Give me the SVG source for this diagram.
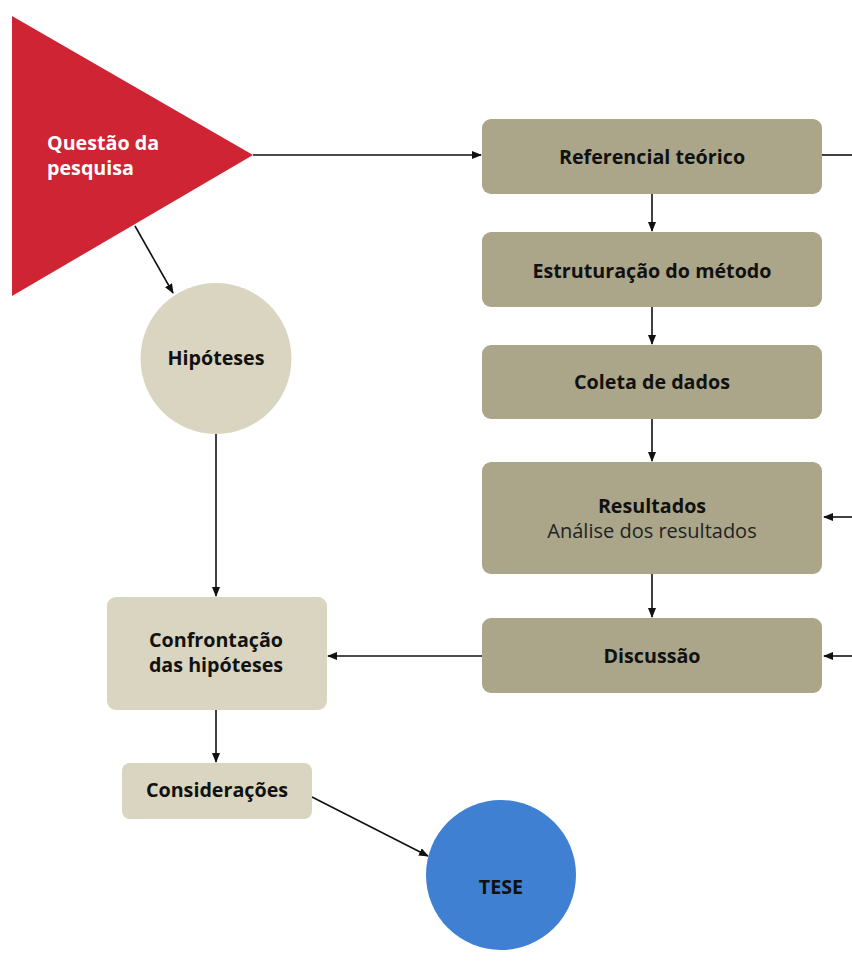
<svg xmlns="http://www.w3.org/2000/svg" width="852" height="963" viewBox="0 0 852 963">
<defs>
<marker id="ah" markerWidth="10" markerHeight="8" refX="9" refY="4" orient="auto" markerUnits="userSpaceOnUse">
<path d="M0,0 L10,4 L0,8 Z" fill="#111"/>
</marker>
<style>
.dark{fill:#ABA68A}
.light{fill:#D9D5C0}
.t{font-family:"Open Sans","Liberation Sans",sans-serif;font-weight:700;font-size:19.7px;fill:#111;text-anchor:middle}
.r{font-family:"Open Sans","Liberation Sans",sans-serif;font-weight:400;font-size:20px;fill:#222;text-anchor:middle}
.c{stroke:#111;stroke-width:1.6;fill:none}
.ca{stroke:#111;stroke-width:1.6;fill:none;marker-end:url(#ah)}
</style>
</defs>
<rect width="852" height="963" fill="#fff"/>
<g id="connectors">
<line class="ca" x1="253" y1="155" x2="481" y2="155"/>
<line class="c" x1="822" y1="155" x2="852" y2="155"/>
<line class="ca" x1="652" y1="194" x2="652" y2="231"/>
<line class="ca" x1="652" y1="307" x2="652" y2="344"/>
<line class="ca" x1="652" y1="419" x2="652" y2="461"/>
<line class="ca" x1="652" y1="574" x2="652" y2="617"/>
<line class="ca" x1="852" y1="517" x2="824" y2="517"/>
<line class="ca" x1="852" y1="656" x2="824" y2="656"/>
<line class="ca" x1="482" y1="656" x2="328" y2="656"/>
<line class="ca" x1="135" y1="226" x2="173" y2="293"/>
<line class="ca" x1="216" y1="434" x2="216" y2="596"/>
<line class="ca" x1="216" y1="710" x2="216" y2="762"/>
<line class="ca" x1="312" y1="797" x2="428" y2="856"/>
</g>
<g id="questao">
<polygon points="12,16 253,155 12,296" fill="#CE2434"/>
<text class="t" style="text-anchor:start;fill:#fff"><tspan x="47" y="150">Questão da</tspan><tspan x="47" y="175">pesquisa</tspan></text>
</g>
<g id="referencial">
<rect class="dark" x="482" y="119" width="340" height="75" rx="9"/>
<text class="t" x="652" y="164">Referencial teórico</text>
</g>
<g id="estruturacao">
<rect class="dark" x="482" y="232" width="340" height="75" rx="9"/>
<text class="t" x="652" y="278">Estruturação do método</text>
</g>
<g id="coleta">
<rect class="dark" x="482" y="345" width="340" height="74" rx="9"/>
<text class="t" x="652" y="389">Coleta de dados</text>
</g>
<g id="resultados">
<rect class="dark" x="482" y="462" width="340" height="112" rx="9"/>
<text class="t" x="652" y="513">Resultados</text>
<text class="r" x="652" y="538">Análise dos resultados</text>
</g>
<g id="discussao">
<rect class="dark" x="482" y="618" width="340" height="75" rx="9"/>
<text class="t" x="652" y="663">Discussão</text>
</g>
<g id="hipoteses">
<circle class="light" cx="216" cy="358.5" r="75.5"/>
<text class="t" x="216" y="365">Hipóteses</text>
</g>
<g id="confrontacao">
<rect class="light" x="107" y="597" width="220" height="113" rx="9"/>
<text class="t"><tspan x="216" y="647">Confrontação</tspan><tspan x="216" y="672">das hipóteses</tspan></text>
</g>
<g id="consideracoes">
<rect class="light" x="122" y="763" width="190" height="56" rx="8"/>
<text class="t" x="217" y="797">Considerações</text>
</g>
<g id="tese">
<circle cx="501" cy="875" r="75" fill="#3F80D2"/>
<text class="t" x="501" y="894">TESE</text>
</g>
</svg>
